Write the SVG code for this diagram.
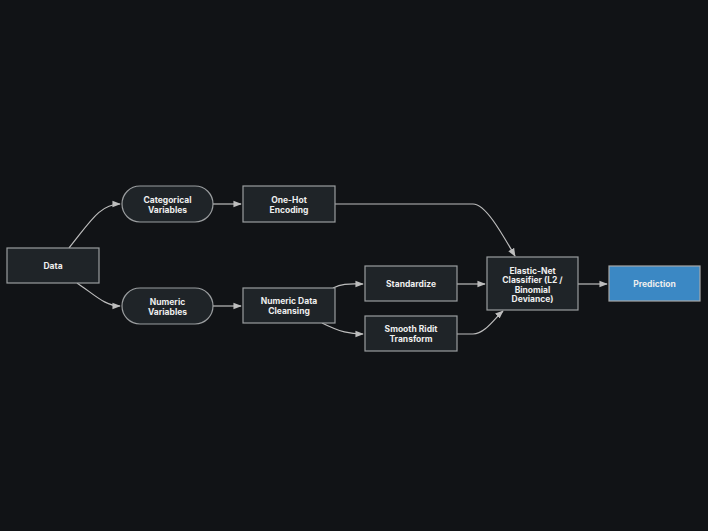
<svg xmlns="http://www.w3.org/2000/svg" width="708" height="531" viewBox="0 0 708 531">
<style>
.n{fill:#1f2428;stroke:#9a9d9f;stroke-width:1.2}
.p{fill:#3b88c4;stroke:#a8a8a8;stroke-width:1.2}
.t{font-family:"Inter","Liberation Sans",sans-serif;font-size:8.5px;font-weight:bold;fill:#eeeeee;text-anchor:middle}
.e{fill:none;stroke:#bdbdbd;stroke-width:1.2;marker-end:url(#a)}
</style>
<defs><marker id="a" viewBox="0 0 10 10" refX="9" refY="5" markerWidth="7" markerHeight="7" orient="auto"><path d="M0,1 L10,5 L0,9 z" fill="#bdbdbd"/></marker></defs>
<rect width="708" height="531" fill="#111316"/>
<g id="edges">
<path class="e" d="M69,248 C90,222 100,204 120,204"/>
<path class="e" d="M77,283 C95,295 105,306 120,306"/>
<path class="e" d="M213,204 H241"/>
<path class="e" d="M335,204 H473 C485,204 500,230 515,256"/>
<path class="e" d="M213,306 H241"/>
<path class="e" d="M333,288 C343,283 350,284 363,284"/>
<path class="e" d="M322,323 C340,332 350,334 363,334"/>
<path class="e" d="M457,284 H485"/>
<path class="e" d="M457,334 H473 C485,334 495,318 503,311"/>
<path class="e" d="M578,284 H607"/>
</g>
<g id="data"><rect class="n" x="7" y="248" width="92" height="35"/><text class="t" x="53" y="269">Data</text></g>
<g id="cat"><rect class="n" x="122" y="186" width="91" height="36" rx="18"/><text class="t" x="167.5" y="203">Categorical</text><text class="t" x="167.5" y="213">Variables</text></g>
<g id="onehot"><rect class="n" x="243" y="186" width="92" height="36"/><text class="t" x="289" y="203">One-Hot</text><text class="t" x="289" y="213">Encoding</text></g>
<g id="numvar"><rect class="n" x="122" y="288" width="91" height="36" rx="18"/><text class="t" x="167.5" y="305">Numeric</text><text class="t" x="167.5" y="315">Variables</text></g>
<g id="clean"><rect class="n" x="243" y="288" width="92" height="35"/><text class="t" x="289" y="304">Numeric Data</text><text class="t" x="289" y="314">Cleansing</text></g>
<g id="std"><rect class="n" x="365" y="266" width="92" height="35"/><text class="t" x="411" y="287">Standardize</text></g>
<g id="ridit"><rect class="n" x="365" y="316" width="92" height="35"/><text class="t" x="411" y="332">Smooth Ridit</text><text class="t" x="411" y="342">Transform</text></g>
<g id="enet"><rect class="n" x="487" y="257" width="91" height="53"/><text class="t" x="532.5" y="273.5">Elastic-Net</text><text class="t" x="532.5" y="283">Classifier (L2 /</text><text class="t" x="532.5" y="292.5">Binomial</text><text class="t" x="532.5" y="302">Deviance)</text></g>
<g id="pred"><rect class="p" x="609" y="266" width="91" height="35"/><text class="t" x="654.5" y="287">Prediction</text></g>
</svg>
